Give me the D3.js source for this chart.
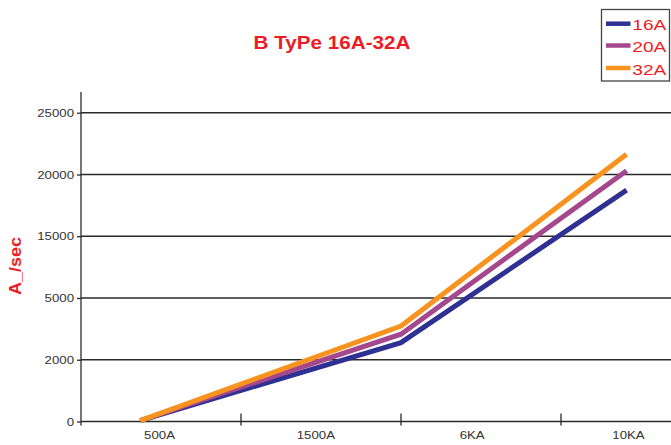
<!DOCTYPE html>
<html>
<head>
<meta charset="utf-8">
<script src="https://cdn.jsdelivr.net/npm/d3@7"></script>
<style>
  html, body { margin: 0; padding: 0; background: #fff; }
  svg { display: block; }
  text { font-family: "Liberation Sans", Arial, sans-serif; }
</style>
</head>
<body>
<svg id="chart" width="671" height="445"></svg>
<script>
// ---- data ----
const categories = ["500A", "1500A", "6KA", "10KA"];
const yTickValues = [0, 2000, 5000, 15000, 20000, 25000];
const seriesNames = ["16A", "20A", "32A"];
// x positions of the measured points, in category-band units (0 = left edge of 500A band)
const pointX = [0.37, 2.0, 3.41];
const values16A = [30, 2830, 18740];
const values20A = [30, 3240, 20310];
const values32A = [30, 3640, 21640];
const seriesColors = ["#2e3192", "#a5478d", "#f7931e"];

const series = [
  { name: seriesNames[0], values: values16A, color: seriesColors[0] },
  { name: seriesNames[1], values: values20A, color: seriesColors[1] },
  { name: seriesNames[2], values: values32A, color: seriesColors[2] }
];

const svg = d3.select("#chart");
const mLeft = 81, mRight = 721, mBottom = 421.5, mTop = 112.75, axisTop = 92;
const W = 671;

// band scale for category boundaries
const xBand = d3.scaleBand().domain(categories).range([mLeft, mRight]).paddingInner(0).paddingOuter(0);
// point scale for category labels
const xLabel = d3.scalePoint().domain(categories).range([159, 628]);
// linear scale for point positions in band units
const xPos = d3.scaleLinear().domain([0, categories.length]).range([mLeft, mRight]);
// piecewise linear y scale (evenly spaced, unevenly valued ticks)
const yStep = (mBottom - mTop) / (yTickValues.length - 1);
const y = d3.scaleLinear().domain(yTickValues).range(yTickValues.map((d, i) => mBottom - i * yStep));

const red = "#ed1c24";
const axisColor = "#2a2a2a";

// gridlines
svg.append("g").selectAll("line")
  .data(yTickValues.slice(1))
  .join("line")
  .attr("x1", mLeft).attr("x2", W)
  .attr("y1", d => y(d)).attr("y2", d => y(d))
  .attr("stroke", axisColor).attr("stroke-width", 1.3);

// y axis
const yAxis = d3.axisLeft(y).tickValues(yTickValues).tickFormat(d => String(d)).tickSize(4).tickPadding(3);
const gy = svg.append("g").attr("transform", `translate(${mLeft},0)`).call(yAxis);
gy.select(".domain").remove();
gy.selectAll(".tick line").attr("stroke", axisColor).attr("stroke-width", 1.3);
gy.selectAll(".tick text").attr("fill", "#333").attr("font-size", "11.5px")
  .attr("font-family", "Liberation Sans, Arial, sans-serif");
svg.append("line").attr("x1", mLeft).attr("x2", mLeft).attr("y1", axisTop).attr("y2", mBottom + 4)
  .attr("stroke", axisColor).attr("stroke-width", 1.3);

// x axis line
svg.append("line").attr("x1", mLeft).attr("x2", W).attr("y1", mBottom).attr("y2", mBottom)
  .attr("stroke", axisColor).attr("stroke-width", 1.3);
// category boundary ticks
svg.append("g").selectAll("line")
  .data(categories.slice(1))
  .join("line")
  .attr("x1", d => xBand(d)).attr("x2", d => xBand(d))
  .attr("y1", mBottom - 8).attr("y2", mBottom + 4)
  .attr("stroke", axisColor).attr("stroke-width", 1.3);
// category labels
const xAxis = d3.axisBottom(xLabel).tickSize(0).tickPadding(0);
const gx = svg.append("g").attr("transform", `translate(0,${mBottom})`).call(xAxis);
gx.select(".domain").remove();
gx.selectAll(".tick text").attr("fill", "#333").attr("font-size", "11.5px")
  .attr("font-family", "Liberation Sans, Arial, sans-serif")
  .attr("dy", null).attr("y", 17.5);

// stretch tick labels horizontally a bit to match the reference glyph widths
svg.selectAll(".tick text").each(function() {
  const len = this.getComputedTextLength();
  d3.select(this).attr("textLength", len * 1.15).attr("lengthAdjust", "spacingAndGlyphs");
});

// lines
const line = d3.line().x((d, i) => xPos(pointX[i])).y(d => y(d));
svg.append("g").selectAll("path")
  .data(series)
  .join("path")
  .attr("d", s => line(s.values))
  .attr("fill", "none")
  .attr("stroke", s => s.color)
  .attr("stroke-width", 5)
  .attr("stroke-linejoin", "miter")
  .attr("stroke-linecap", "butt");

// title
svg.append("text").attr("x", 332).attr("y", 48.5).attr("text-anchor", "middle")
  .attr("fill", red).attr("font-weight", "bold").attr("font-size", "18.6px")
  .attr("textLength", 157).attr("lengthAdjust", "spacingAndGlyphs")
  .text("B TyPe 16A-32A");

// y axis label
svg.append("text").attr("transform", "translate(21,266) rotate(-90)")
  .attr("text-anchor", "middle").attr("fill", red).attr("font-weight", "bold")
  .attr("font-size", "17px").attr("textLength", 58).attr("lengthAdjust", "spacingAndGlyphs")
  .text("A_/sec");

// legend
const lg = svg.append("g");
lg.append("rect").attr("x", 601.5).attr("y", 9.5).attr("width", 68).attr("height", 71.5)
  .attr("fill", "#fff").attr("stroke", "#444").attr("stroke-width", 1.3);
const rowY = [23.7, 45.5, 68];
const items = lg.selectAll("g.item").data(series).join("g").attr("class", "item");
items.append("line")
  .attr("x1", 606).attr("x2", 630.5)
  .attr("y1", (d, i) => rowY[i]).attr("y2", (d, i) => rowY[i])
  .attr("stroke", d => d.color).attr("stroke-width", 4.5);
items.append("text")
  .attr("x", 632.3).attr("y", (d, i) => rowY[i] + 6.5)
  .attr("fill", red).attr("font-size", "15px")
  .attr("textLength", 34).attr("lengthAdjust", "spacingAndGlyphs")
  .text(d => d.name);
</script>
</body>
</html>
